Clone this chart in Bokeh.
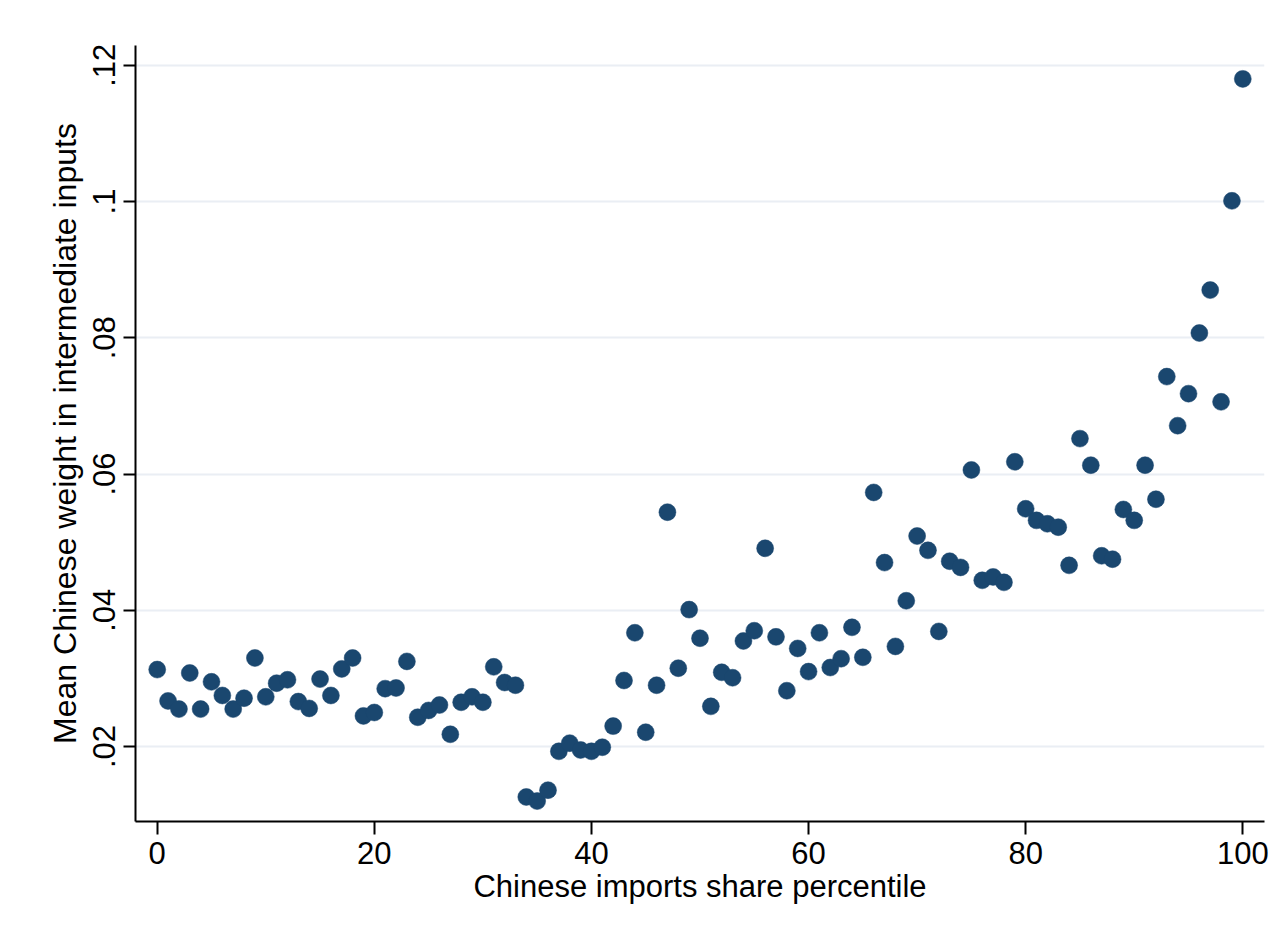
from bokeh.plotting import figure
from bokeh.models import Range1d, FixedTicker, CustomJSTickFormatter
from bokeh.embed import file_html
from bokeh.resources import INLINE

# Data: percentile of Chinese imports share (x) and mean Chinese weight (y)
percentile = [0, 1, 2, 3, 4, 5, 6, 7, 8, 9,
              10, 11, 12, 13, 14, 15, 16, 17, 18, 19,
              20, 21, 22, 23, 24, 25, 26, 27, 28, 29,
              30, 31, 32, 33, 34, 35, 36, 37, 38, 39,
              40, 41, 42, 43, 44, 45, 46, 47, 48, 49,
              50, 51, 52, 53, 54, 55, 56, 57, 58, 59,
              60, 61, 62, 63, 64, 65, 66, 67, 68, 69,
              70, 71, 72, 73, 74, 75, 76, 77, 78, 79,
              80, 81, 82, 83, 84, 85, 86, 87, 88, 89,
              90, 91, 92, 93, 94, 95, 96, 97, 98, 99, 100]

mean_weight = [0.0313, 0.0267, 0.0255, 0.0308, 0.0255, 0.0295, 0.0275, 0.0255, 0.0271, 0.0330,
               0.0273, 0.0293, 0.0298, 0.0266, 0.0256, 0.0299, 0.0275, 0.0314, 0.0330, 0.0245,
               0.0250, 0.0285, 0.0286, 0.0325, 0.0243, 0.0253, 0.0261, 0.0218, 0.0265, 0.0273,
               0.0265, 0.0317, 0.0294, 0.0290, 0.0126, 0.0120, 0.0136, 0.0193, 0.0205, 0.0195,
               0.0193, 0.0199, 0.0230, 0.0297, 0.0367, 0.0221, 0.0290, 0.0544, 0.0315, 0.0401,
               0.0359, 0.0259, 0.0309, 0.0301, 0.0355, 0.0370, 0.0491, 0.0361, 0.0282, 0.0344,
               0.0310, 0.0367, 0.0316, 0.0329, 0.0375, 0.0331, 0.0573, 0.0470, 0.0347, 0.0414,
               0.0509, 0.0488, 0.0369, 0.0472, 0.0463, 0.0606, 0.0444, 0.0449, 0.0441, 0.0618,
               0.0549, 0.0532, 0.0527, 0.0522, 0.0466, 0.0652, 0.0613, 0.0480, 0.0475, 0.0548,
               0.0532, 0.0613, 0.0563, 0.0743, 0.0671, 0.0718, 0.0807, 0.0870, 0.0706, 0.1001,
               0.1180]

x_ticks = [0, 20, 40, 60, 80, 100]
y_ticks = [0.02, 0.04, 0.06, 0.08, 0.10, 0.12]

x_title = "Chinese imports share percentile"
y_title = "Mean Chinese weight in intermediate inputs"

FONT = "Liberation Sans"
NAVY = "#1a476f"

p = figure(width=1271, height=924, output_backend="svg", toolbar_location=None,
           x_range=Range1d(-2.0, 102.0), y_range=Range1d(0.0090, 0.1229),
           min_border_left=135, min_border_top=45, min_border_right=7, min_border_bottom=103)

p.scatter(percentile, mean_weight, size=17, fill_color=NAVY, line_color=NAVY, line_width=0.5)

p.background_fill_color = "white"
p.border_fill_color = "white"
p.outline_line_color = None

# grid
p.xgrid.grid_line_color = None
p.ygrid.grid_line_color = "#eaeef4"
p.ygrid.grid_line_width = 2

# x axis
xa = p.xaxis[0]
xa.ticker = FixedTicker(ticks=x_ticks)
xa.axis_label = x_title
xa.axis_label_text_font = FONT
xa.axis_label_text_font_size = "31px"
xa.axis_label_text_font_style = "normal"
xa.axis_label_text_color = "black"
xa.axis_label_standoff = 2
xa.major_label_text_font = FONT
xa.major_label_text_font_size = "31px"
xa.major_label_text_color = "black"
xa.major_label_standoff = 7
xa.axis_line_width = 2
xa.axis_line_color = "black"
xa.major_tick_line_width = 2
xa.major_tick_line_color = "black"
xa.major_tick_out = 13
xa.major_tick_in = 0
xa.minor_tick_line_color = None

# y axis
ya = p.yaxis[0]
ya.ticker = FixedTicker(ticks=y_ticks)
ya.formatter = CustomJSTickFormatter(code="""
let s = tick.toFixed(2);
s = s.replace(/^0/, '');
s = s.replace(/0+$/, '');
return s;
""")
ya.major_label_orientation = "vertical"
ya.axis_label = y_title
ya.axis_label_text_font = FONT
ya.axis_label_text_font_size = "32px"
ya.axis_label_text_font_style = "normal"
ya.axis_label_text_color = "black"
ya.axis_label_standoff = 8
ya.major_label_text_font = FONT
ya.major_label_text_font_size = "31px"
ya.major_label_text_color = "black"
ya.major_label_standoff = 8
ya.axis_line_width = 2
ya.axis_line_color = "black"
ya.major_tick_line_width = 2
ya.major_tick_line_color = "black"
ya.major_tick_out = 12
ya.major_tick_in = 0
ya.minor_tick_line_color = None

open("out.html", "w").write(file_html(p, INLINE))
